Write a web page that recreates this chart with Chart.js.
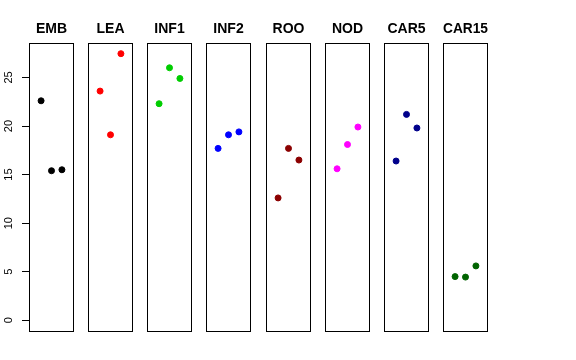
<!DOCTYPE html>
<html>
<head>
<meta charset="utf-8">
<script src="https://cdn.jsdelivr.net/npm/chart.js@4.4.1/dist/chart.umd.min.js"></script>
<style>
  body { margin: 0; background: #fff; }
  #wrap { position: relative; width: 576px; height: 360px; }
  canvas { position: absolute; top: 0; }
</style>
</head>
<body>
<div id="wrap"></div>
<script>
const categories = ['EMB', 'LEA', 'INF1', 'INF2', 'ROO', 'NOD', 'CAR5', 'CAR15'];
const positions = [1, 2, 3];
const values = [
    [22.6, 15.4, 15.5],
    [23.6, 19.1, 27.45],
    [22.3, 26.0, 24.9],
    [17.7, 19.1, 19.4],
    [12.6, 17.7, 16.5],
    [15.6, 18.1, 19.9],
    [16.4, 21.2, 19.8],
    [4.5, 4.45, 5.6]
];
const colors = ['#000000', '#ff0000', '#00cd00', '#0000ff', '#8b0000', '#ff00ff', '#00008b', '#006400'];
const yTicks = [0, 5, 10, 15, 20, 25];

const yMin = -1.1, yMax = 28.55;
const xMin = -0.16, xMax = 4.16;
const axisWidth = 29;
const panelWidth = 45;
const panelStep = 59.15;

// R-style box round each panel
const boxPlugin = {
    id: 'box',
    afterDraw(chart) {
        const a = chart.chartArea;
        const c = chart.ctx;
        c.save();
        c.strokeStyle = '#000';
        c.lineWidth = 1;
        c.strokeRect(Math.round(a.left) + 0.5, Math.round(a.top) + 0.5,
            Math.round(a.right - a.left) - 1, Math.round(a.bottom - a.top));
        c.restore();
    }
};

const wrap = document.getElementById('wrap');

categories.forEach((name, i) => {
    const first = i === 0;
    const side = first ? axisWidth : 0;
    const canvas = document.createElement('canvas');
    canvas.width = panelWidth + side;
    canvas.height = 360;
    canvas.style.left = (Math.round(axisWidth + i * panelStep) - side) + 'px';
    wrap.appendChild(canvas);

    const yScale = {
        min: yMin,
        max: yMax,
        display: first
    };
    if (first) {
        Object.assign(yScale, {
            afterBuildTicks: s => { s.ticks = yTicks.map(v => ({ value: v })); },
            afterFit: s => { s.width = axisWidth; },
            ticks: {
                minRotation: 90,
                maxRotation: 90,
                crossAlign: 'center',
                padding: 7,
                color: '#000',
                font: { family: 'Liberation Sans', size: 11 }
            },
            grid: { drawOnChartArea: false, tickLength: 7, color: '#000' },
            border: { color: '#000' }
        });
    }

    new Chart(canvas.getContext('2d'), {
        type: 'scatter',
        data: {
            datasets: [{
                data: positions.map((x, j) => ({ x: x, y: values[i][j] })),
                backgroundColor: colors[i],
                borderColor: colors[i],
                pointRadius: 3,
                pointHoverRadius: 3
            }]
        },
        options: {
            responsive: false,
            animation: false,
            layout: { autoPadding: false, padding: { left: 0, right: 0, top: 0, bottom: 29 } },
            plugins: {
                legend: { display: false },
                tooltip: { enabled: false },
                title: {
                    display: true,
                    fullSize: false,
                    text: name,
                    color: '#000',
                    font: { family: 'Liberation Sans', size: 14, weight: 'bold', lineHeight: 1.2 },
                    padding: { top: 20.6, bottom: 5.6 }
                }
            },
            scales: {
                x: { type: 'linear', min: xMin, max: xMax, display: false },
                y: yScale
            }
        },
        plugins: [boxPlugin]
    });
});
</script>
</body>
</html>
